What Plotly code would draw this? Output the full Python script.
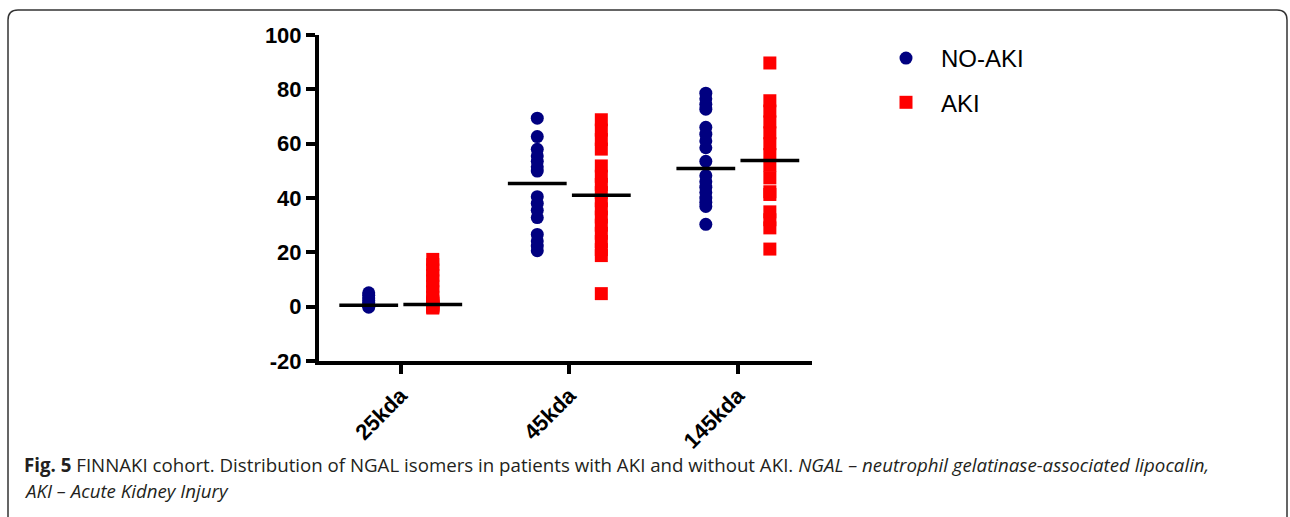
import plotly.graph_objects as go

# ---------------- data ----------------
categories = ["25kda", "45kda", "145kda"]

no_aki_25 = [-0.2, 0.3, 0.8, 1.5, 2.3, 3.2, 4.2, 5.1]
no_aki_45 = [69.4, 62.6, 57.9, 55.5, 53.5, 51.5, 49.9,
             40.5, 38.0, 35.5, 32.8, 26.6, 24.2, 22.3, 20.6]
no_aki_145 = [78.6, 76.5, 74.5, 72.7, 66.0, 63.5, 61.0, 58.5, 53.5,
              48.2, 46.0, 44.0, 42.0, 40.0, 38.4, 36.9, 30.3]

aki_25 = [-0.5, -0.2, 0.1, 0.4, 0.7, 1.0, 1.3, 1.8, 3.5, 5.5,
          7.5, 9.5, 11.5, 13.5, 15.5, 17.4]
aki_45 = [68.8, 65.0, 61.5, 58.0,
          51.8, 48.0, 45.0, 42.0, 39.0, 36.0, 33.0, 30.0, 27.0, 24.0, 21.0, 18.8,
          4.8]
aki_145 = [89.7,
           75.8, 72.0, 68.0, 64.0, 60.0, 56.0, 52.0, 47.4,
           42.3, 41.3,
           34.9, 32.0, 29.0,
           21.2]

no_aki_median = [0.5, 45.3, 50.9]
aki_median = [0.8, 41.0, 53.8]

y_ticks = [-20, 0, 20, 40, 60, 80, 100]
y_tick_labels = ["-20", "0", "20", "40", "60", "80", "100"]

series_names = ["NO-AKI", "AKI"]

# ---------------- layout geometry ----------------
W, H = 1290, 517
L, R, T, B = 319, 478, 35, 156
PW, PH = W - L - R, H - T - B
OFF = 0.19


def px2x(px):
    return (px - L) / PW


def py2y(py):
    return (H - B - py) / PH


no_aki_groups = [no_aki_25, no_aki_45, no_aki_145]
aki_groups = [aki_25, aki_45, aki_145]

bx, by, rx, ry = [], [], [], []
for i, vals in enumerate(no_aki_groups):
    bx += [i - OFF] * len(vals)
    by += vals
for i, vals in enumerate(aki_groups):
    rx += [i + OFF] * len(vals)
    ry += vals

fig = go.Figure()
fig.add_trace(go.Scatter(
    x=bx, y=by, mode="markers", name=series_names[0], legendgroup="a",
    marker=dict(symbol="circle", size=13, color="#000080", line=dict(width=0)),
))
fig.add_trace(go.Scatter(
    x=rx, y=ry, mode="markers", name=series_names[1], legendgroup="b",
    marker=dict(symbol="square", size=13, color="#FF0000", line=dict(width=0)),
))
# medians
mx = [i - OFF for i in range(3)] + [i + OFF for i in range(3)]
my = no_aki_median + aki_median
fig.add_trace(go.Scatter(
    x=mx, y=my, mode="markers", showlegend=False, hoverinfo="skip",
    marker=dict(symbol="line-ew", size=42, color="black",
                line=dict(width=3.5, color="black")),
))

# rounded frame (top, left, right edges)
xl, xr, yt, yb, rad = 8, 1287, 10, 540, 10
path = (f"M {px2x(xl)},{py2y(yb)} L {px2x(xl)},{py2y(yt + rad)} "
        f"Q {px2x(xl)},{py2y(yt)} {px2x(xl + rad)},{py2y(yt)} "
        f"L {px2x(xr - rad)},{py2y(yt)} "
        f"Q {px2x(xr)},{py2y(yt)} {px2x(xr)},{py2y(yt + rad)} "
        f"L {px2x(xr)},{py2y(yb)}")

cap_font = dict(family="Open Sans", size=18.7, color="#231f20")

fig.update_layout(
    width=W, height=H,
    margin=dict(l=L, r=R, t=T, b=B, pad=0),
    paper_bgcolor="white", plot_bgcolor="white",
    font=dict(family="Arial", color="black"),
    shapes=[dict(type="path", xref="paper", yref="paper", path=path,
                 line=dict(color="#333333", width=1.5))],
    legend=dict(x=px2x(871), y=py2y(36), xanchor="left", yanchor="top",
                font=dict(family="Arial", size=24, color="black"),
                traceorder="grouped", tracegroupgap=10, itemwidth=60,
                bgcolor="rgba(0,0,0,0)"),
    annotations=[
        dict(xref="paper", yref="paper", x=px2x(22), y=py2y(464),
             xanchor="left", yanchor="middle", showarrow=False,
             text=("<b>Fig. 5</b> FINNAKI cohort. Distribution of NGAL isomers in patients "
                   "with AKI and without AKI. <i>NGAL – neutrophil gelatinase-associated lipocalin,</i>"),
             font=cap_font),
        dict(xref="paper", yref="paper", x=px2x(22), y=py2y(490),
             xanchor="left", yanchor="middle", showarrow=False,
             text="<i>AKI – Acute Kidney Injury</i>",
             font=cap_font),
    ],
)

fig.update_xaxes(
    range=[-0.485, 2.44], tickmode="array", tickvals=[0, 1, 2], ticktext=categories,
    tickangle=-45, showgrid=False, zeroline=False,
    showline=True, linewidth=4, linecolor="black",
    ticks="outside", ticklen=9, tickwidth=4, tickcolor="black",
    tickfont=dict(family="Arial", size=22, color="black", weight="bold"),
)
fig.update_yaxes(
    range=[-20, 100], tickmode="array", tickvals=y_ticks, ticktext=y_tick_labels,
    showgrid=False, zeroline=False,
    showline=True, linewidth=4, linecolor="black",
    ticks="outside", ticklen=9, tickwidth=4, tickcolor="black",
    tickfont=dict(family="Arial", size=22, color="black", weight="bold"),
)

fig.write_html("out.html", config={"displayModeBar": False},
               post_script="document.body.style.margin='0';")
